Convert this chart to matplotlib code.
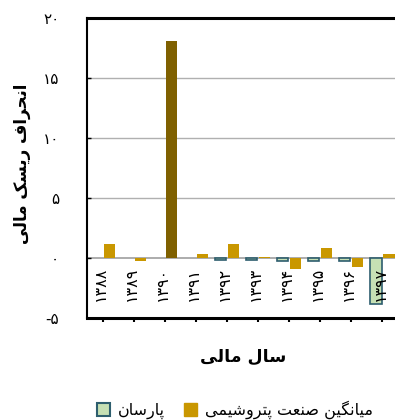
import numpy as np
import matplotlib
matplotlib.use("Agg")
import matplotlib.pyplot as plt
from matplotlib.patches import Patch

plt.rcParams['font.family'] = ['DejaVu Sans']

# ---- data ----
years = ['۱۳۸۸', '۱۳۸۹', '۱۳۹۰', '۱۳۹۱', '۱۳۹۲', '۱۳۹۳', '۱۳۹۴', '۱۳۹۵', '۱۳۹۶', '۱۳۹۷']
parsan = [np.nan, np.nan, np.nan, np.nan, -0.2, -0.2, -0.27, -0.25, -0.25, -3.85]
industry_avg = [1.15, -0.22, 18.1, 0.33, 1.2, 0.08, -0.88, 0.83, -0.75, 0.3]
yticks = [-5, 0, 5, 10, 15, 20]
ytick_labels = ['-۵', '۰', '۵', '۱۰', '۱۵', '۲۰']
series_names = ['پارسان', 'میانگین صنعت پتروشیمی']
xlabel = 'سال مالی'
ylabel = 'انحراف ریسک مالی'

# ---- simple Persian shaping (presentation forms) + RTL ordering ----
FORMS = {
    'ا': ('\uFE8D', '\uFE8E', None, None),
    'ر': ('\uFEAD', '\uFEAE', None, None),
    'و': ('\uFEED', '\uFEEE', None, None),
    'پ': ('\uFB56', '\uFB57', '\uFB58', '\uFB59'),
    'ت': ('\uFE95', '\uFE96', '\uFE97', '\uFE98'),
    'ح': ('\uFEA1', '\uFEA2', '\uFEA3', '\uFEA4'),
    'س': ('\uFEB1', '\uFEB2', '\uFEB3', '\uFEB4'),
    'ش': ('\uFEB5', '\uFEB6', '\uFEB7', '\uFEB8'),
    'ص': ('\uFEB9', '\uFEBA', '\uFEBB', '\uFEBC'),
    'ع': ('\uFEC9', '\uFECA', '\uFECB', '\uFECC'),
    'ف': ('\uFED1', '\uFED2', '\uFED3', '\uFED4'),
    'ک': ('\uFB8E', '\uFB8F', '\uFB90', '\uFB91'),
    'گ': ('\uFB92', '\uFB93', '\uFB94', '\uFB95'),
    'ل': ('\uFEDD', '\uFEDE', '\uFEDF', '\uFEE0'),
    'م': ('\uFEE1', '\uFEE2', '\uFEE3', '\uFEE4'),
    'ن': ('\uFEE5', '\uFEE6', '\uFEE7', '\uFEE8'),
    'ی': ('\uFBFC', '\uFBFD', '\uFBFE', '\uFBFF'),
}


def fa(s):
    out = []
    for i, c in enumerate(s):
        if c not in FORMS:
            out.append(c)
            continue
        prev = s[i - 1] if i > 0 else None
        nxt = s[i + 1] if i < len(s) - 1 else None
        jp = prev in FORMS and FORMS[prev][2] is not None
        jn = FORMS[c][2] is not None and nxt in FORMS
        iso, fin, ini, med = FORMS[c]
        if jp and jn:
            out.append(med)
        elif jp:
            out.append(fin)
        elif jn:
            out.append(ini)
        else:
            out.append(iso)
    return ''.join(reversed(out))


gold = '#C99700'
brown = '#7F6000'
green = '#C6E0B4'
teal = '#2E5E6E'

fig = plt.figure(figsize=(3.95, 4.2), dpi=100)
ax = fig.add_axes([0.2203, 0.2429, 0.7873, 0.7143])

x = np.arange(len(years))
w = 0.36
off = 0.21

ax.set_ylim(-5, 20)
ax.set_xlim(-0.5, len(years) - 0.5)
ax.set_yticks(yticks)
ax.set_yticklabels(ytick_labels, fontsize=11)
for y in [5, 10, 15]:
    ax.axhline(y, color='#B0B0B0', lw=1.0, zorder=1)
ax.axhline(0, color='#A6A6A6', lw=1.3, zorder=1)

ax.bar(x - off, parsan, width=w, color=green, edgecolor=teal, linewidth=1.2, zorder=2)
gold_colors = [brown if i == 2 else gold for i in range(len(years))]
ax.bar(x + off, industry_avg, width=w, color=gold_colors, zorder=2)

for i, lab in enumerate(years):
    ax.text(x[i] - 0.08, -0.7, lab, rotation=90, ha='center', va='top', fontsize=11.5, zorder=3)

ax.set_xticks(x)
ax.set_xticklabels([])
ax.tick_params(axis='x', direction='out', length=3, width=1.5, color='black')
ax.tick_params(axis='y', direction='in', length=3, width=1, pad=20)

ax.spines['left'].set_linewidth(1.5)
for s in ['top', 'bottom']:
    ax.spines[s].set_linewidth(2.2)
ax.spines['right'].set_visible(False)

fig.text(243 / 395, 1 - 357 / 420, fa(xlabel), ha='center', va='center', fontsize=12.5, fontweight='bold')
fig.text(22 / 395, 1 - 164 / 420, fa(ylabel), ha='center', va='center', rotation=90, fontsize=12, fontweight='bold')

handles = [Patch(facecolor=green, edgecolor=teal, linewidth=1.5),
           Patch(facecolor=gold, edgecolor=gold)]
fig.legend(handles, [fa(n) for n in series_names], loc='center', ncol=2,
           bbox_to_anchor=(235 / 395, 1 - 410 / 420), frameon=False, fontsize=11.5,
           handlelength=0.8, handleheight=0.8, handletextpad=0.5, columnspacing=1.2)

fig.savefig('out.png', dpi=100)
